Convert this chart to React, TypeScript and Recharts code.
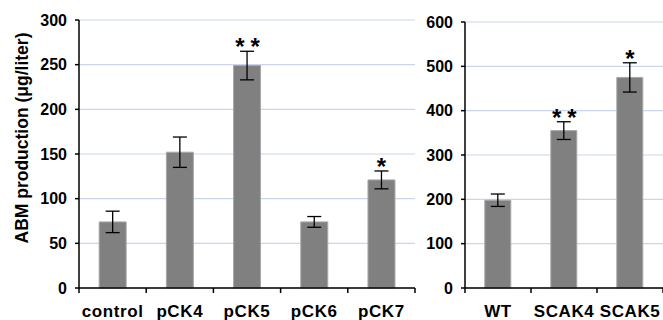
import { BarChart, Bar, XAxis, YAxis, CartesianGrid, ErrorBar, LabelList } from "recharts"

// left panel: pCK constructs
const leftNames = ["control", "pCK4", "pCK5", "pCK6", "pCK7"]
const leftValues = [74, 152, 249, 74, 121]
const leftErrors = [12, 17, 16, 6, 10]
const leftSig = ["", "", "**", "", "*"]
const leftTicks = [0, 50, 100, 150, 200, 250, 300]

// right panel: strains
const rightNames = ["WT", "SCAK4", "SCAK5"]
const rightValues = [198, 355, 475]
const rightErrors = [14, 20, 33]
const rightSig = ["", "**", "*"]
const rightTicks = [0, 100, 200, 300, 400, 500, 600]

const font = "'Liberation Sans', Arial, sans-serif"
const gridColor = "#c9d6ee"
const barColor = "#808080"

const makeRows = (names: string[], values: number[], errors: number[], sig: string[]) =>
  names.map((name, i) => ({ name, value: values[i], err: errors[i], sig: sig[i] }))

const leftData = makeRows(leftNames, leftValues, leftErrors, leftSig)
const rightData = makeRows(rightNames, rightValues, rightErrors, rightSig)

function makeTick(bandWidth: number, count: number) {
  return (props: any) => {
    const { x, y, payload, index } = props
    const left = x - bandWidth / 2
    const right = x + bandWidth / 2
    return (
      <g>
        <line x1={left} x2={left} y1={y} y2={y + 5} stroke="#000" strokeWidth={1.5} />
        {index === count - 1 && <line x1={right} x2={right} y1={y} y2={y + 5} stroke="#000" strokeWidth={1.5} />}
        <text x={x} y={y + 29} textAnchor="middle" fontFamily={font} fontWeight="bold" fontSize={17} letterSpacing={0.6} fill="#000">
          {payload.value}
        </text>
      </g>
    )
  }
}

function makeSig(rows: { value: number; err: number; sig: string }[]) {
  return (props: any) => {
    const { x, y, width, height, index } = props
    const row = rows[index]
    if (!row || !row.sig) return null
    const errPx = (row.err * height) / row.value
    return (
      <text
        x={x + width / 2 + (row.sig.length > 1 ? 3.5 : 0)}
        y={y - errPx + 4}
        textAnchor="middle"
        fontFamily={font}
        fontWeight="bold"
        fontSize={24}
        letterSpacing={row.sig.length > 1 ? 6 : 0}
        fill="#000"
      >
        {row.sig}
      </text>
    )
  }
}

const yLabel = (props: any) => {
  const { viewBox } = props
  const cx = 22
  const cy = viewBox.y + viewBox.height / 2 - 16
  return (
    <text
      x={cx}
      y={cy}
      transform={`rotate(-90 ${cx} ${cy})`}
      textAnchor="middle"
      dominantBaseline="central"
      fontFamily={font}
      fontWeight="bold"
      fontSize={17.5}
      fill="#000"
    >
      ABM production (μg/liter)
    </text>
  )
}

const tickStyle = { fontFamily: font, fontWeight: "bold", fontSize: 16, fill: "#000" }
const axisLine = { stroke: "#000", strokeWidth: 1.5 }

export default function App() {
  return (
    <div style={{ position: "absolute", left: 0, top: 0, width: 663, height: 320, background: "#fff" }}>
      <div style={{ position: "absolute", left: 0, top: 0 }}>
        <BarChart width={420} height={320} data={leftData} margin={{ top: 20, right: 5, bottom: 0, left: 0 }} barCategoryGap="30%">
          <CartesianGrid vertical={false} stroke={gridColor} strokeWidth={1.2} />
          <XAxis
            dataKey="name"
            height={32}
            axisLine={axisLine}
            tickLine={false}
            tickSize={0}
            tickMargin={0}
            interval={0}
            tick={makeTick(336 / leftNames.length, leftNames.length)}
          />
          <YAxis
            width={79}
            domain={[0, 300]}
            ticks={leftTicks}
            interval={0}
            axisLine={axisLine}
            tickLine={{ stroke: "#000", strokeWidth: 1.5 }}
            tickSize={4}
            tickMargin={8}
            tick={tickStyle}
            label={{ content: yLabel }}
          />
          <Bar dataKey="value" fill={barColor} stroke="#a8a8a8" strokeWidth={1} isAnimationActive={false}>
            <ErrorBar dataKey="err" width={7} stroke="#000" strokeWidth={1.3} />
            <LabelList dataKey="sig" content={makeSig(leftData)} />
          </Bar>
        </BarChart>
      </div>
      <div style={{ position: "absolute", left: 420, top: 0 }}>
        <BarChart width={243} height={320} data={rightData} margin={{ top: 22, right: 0, bottom: 0, left: 0 }} barCategoryGap="30%">
          <CartesianGrid vertical={false} stroke={gridColor} strokeWidth={1.2} />
          <XAxis
            dataKey="name"
            height={32}
            axisLine={axisLine}
            tickLine={false}
            tickSize={0}
            tickMargin={0}
            interval={0}
            tick={makeTick(198 / rightNames.length, rightNames.length)}
          />
          <YAxis
            width={45}
            domain={[0, 600]}
            ticks={rightTicks}
            interval={0}
            axisLine={axisLine}
            tickLine={{ stroke: "#000", strokeWidth: 1.5 }}
            tickSize={4}
            tickMargin={8}
            tick={tickStyle}
          />
          <Bar dataKey="value" fill={barColor} stroke="#a8a8a8" strokeWidth={1} isAnimationActive={false}>
            <ErrorBar dataKey="err" width={7} stroke="#000" strokeWidth={1.3} />
            <LabelList dataKey="sig" content={makeSig(rightData)} />
          </Bar>
        </BarChart>
      </div>
    </div>
  )
}
